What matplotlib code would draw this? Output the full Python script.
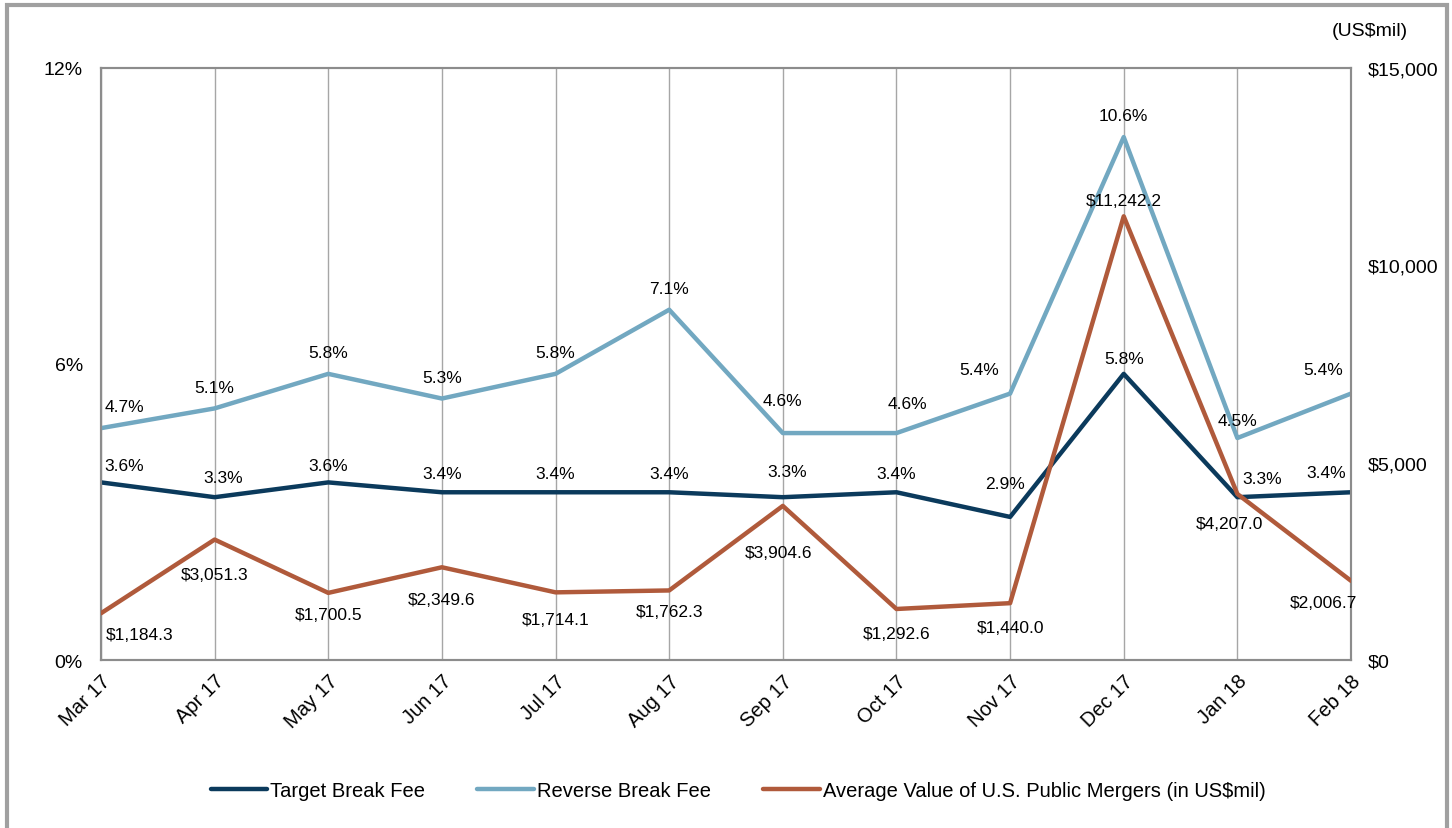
import matplotlib.pyplot as plt
from matplotlib.patches import Rectangle

plt.rcParams['font.family'] = ['Liberation Sans', 'DejaVu Sans']

months = ['Mar 17', 'Apr 17', 'May 17', 'Jun 17', 'Jul 17', 'Aug 17',
          'Sep 17', 'Oct 17', 'Nov 17', 'Dec 17', 'Jan 18', 'Feb 18']
target_fee = [3.6, 3.3, 3.6, 3.4, 3.4, 3.4, 3.3, 3.4, 2.9, 5.8, 3.3, 3.4]
reverse_fee = [4.7, 5.1, 5.8, 5.3, 5.8, 7.1, 4.6, 4.6, 5.4, 10.6, 4.5, 5.4]
avg_value = [1184.3, 3051.3, 1700.5, 2349.6, 1714.1, 1762.3,
             3904.6, 1292.6, 1440.0, 11242.2, 4207.0, 2006.7]

c_target = '#0b3a5c'
c_reverse = '#72a8c1'
c_avg = '#b05a3b'

fig = plt.figure(figsize=(14.52, 8.29), dpi=100)
ax = fig.add_axes([101/1452, 1 - 661/829, 1250/1452, 592/829])
ax2 = ax.twinx()

x = list(range(len(months)))
l1, = ax.plot(x, target_fee, color=c_target, lw=3.2, solid_capstyle='round', zorder=4)
l2, = ax.plot(x, reverse_fee, color=c_reverse, lw=3.2, solid_capstyle='round', zorder=3)
l3, = ax2.plot(x, avg_value, color=c_avg, lw=3.2, solid_capstyle='round', zorder=3)

ax.set_xlim(0, 11)
ax.set_ylim(0, 12)
ax2.set_ylim(0, 15000)
ax.set_yticks([0, 6, 12])
ax.set_yticklabels(['0%', '6%', '12%'])
ax2.set_yticks([0, 5000, 10000, 15000])
ax2.set_yticklabels(['$0', '$5,000', '$10,000', '$15,000'])
ax.set_xticks(x)
ax.set_xticklabels(months, rotation=45, ha='right', rotation_mode='anchor')

for a in (ax, ax2):
    a.tick_params(length=0, labelsize=14, colors='black')
    for s in a.spines.values():
        s.set_color('#8c8c8c')
        s.set_linewidth(1.5)
ax.tick_params(axis='x', labelsize=14.5, pad=8)
ax.tick_params(axis='y', pad=13)
ax2.tick_params(axis='y', pad=12)
ax.grid(axis='x', color='#a6a6a6', lw=1)
ax.set_axisbelow(True)

# label offsets in points (dx, dy)
rev_off = [(17, 10), (0, 10), (0, 10), (0, 10), (0, 10), (0, 10),
           (0, 18), (8, 16), (-22, 12), (0, 10), (0, 7), (-20, 12)]
tgt_off = [(17, 7), (6, 9), (0, 7), (0, 8), (0, 8), (0, 8),
           (3, 13), (0, 8), (-4, 19), (0, 6), (18, 8), (-18, 9)]
avg_off = [(28, -10), (0, -20), (0, -10), (0, -18), (0, -14), (0, -10),
           (-3, -28), (0, -12), (0, -12), (0, 6), (-6, -16), (-20, -10)]

for i in x:
    ax.annotate(f'{reverse_fee[i]:.1f}%', (i, reverse_fee[i]), xytext=rev_off[i],
                textcoords='offset points', ha='center', va='bottom', fontsize=12.5)
    ax.annotate(f'{target_fee[i]:.1f}%', (i, target_fee[i]), xytext=tgt_off[i],
                textcoords='offset points', ha='center', va='bottom', fontsize=12.5)
    va = 'bottom' if avg_off[i][1] > 0 else 'top'
    ax2.annotate(f'${avg_value[i]:,.1f}', (i, avg_value[i]), xytext=avg_off[i],
                 textcoords='offset points', ha='center', va=va, fontsize=12.5)

fig.text(1408/1452, 1 - 31/829, '(US$mil)', ha='right', va='center', fontsize=14)

fig.legend([l1, l2, l3],
           ['Target Break Fee', 'Reverse Break Fee',
            'Average Value of U.S. Public Mergers (in US$mil)'],
           loc='center', bbox_to_anchor=(738/1452, 1 - 792/829), ncol=3,
           frameon=False, fontsize=14.5, handlelength=2.8, handletextpad=0.15,
           columnspacing=2.6)

fig.patches.append(Rectangle((7/1452, -0.05), 1440/1452, 1.05 - 6/829,
                             transform=fig.transFigure, fill=False,
                             edgecolor='#a0a0a0', lw=3))

fig.savefig('out.png', dpi=100)
